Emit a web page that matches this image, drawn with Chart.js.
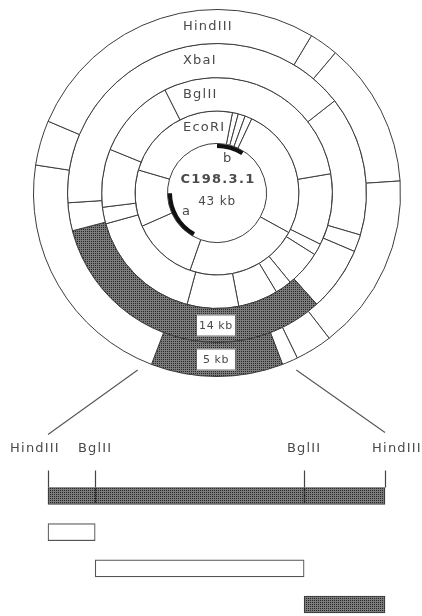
<!DOCTYPE html>
<html>
<head>
<meta charset="utf-8">
<script src="https://cdn.jsdelivr.net/npm/chart.js@4.4.1/dist/chart.umd.min.js"></script>
<style>
  html, body { margin: 0; padding: 0; background: #fff; width: 422px; height: 616px; overflow: hidden; }
  body { position: relative; }
  #ring { position: absolute; left: 33px; top: 9px; }
  #map { position: absolute; left: 0; top: 360px; }
</style>
</head>
<body>
<canvas id="ring" width="368" height="368"></canvas>
<canvas id="map" width="422" height="256"></canvas>
<script>
// Circular restriction map of cosmid C198.3.1 (43 kb); site positions in kb, clockwise from the top.
const cloneName = 'C198.3.1';
const genomeKb = 43;
const enzymes = ['HindIII', 'XbaI', 'BglII', 'EcoRI'];
const hindIIISites = [3.7, 4.8, 10.3, 17.0, 18.4, 19.0, 24.0, 33.3, 35.0];
const xbaISites = [6.2, 12.7, 13.5, 16.5, 30.5, 31.8];
const bglIISites = [9.6, 13.9, 14.6, 16.8, 17.8, 20.2, 23.3, 30.4, 31.4, 34.9, 39.8];
const ecoRISites = [1.3, 1.8, 2.4, 3.0, 14.2, 23.8, 29.4, 34.2];
// fragment (by its first site) that is shaded in each ring; null = none
const shadedStarts = [19.0, 16.5, null, null];
// hybridising probe regions drawn on the inner circle
const probeLabels = ['b', 'a'];
const probeStarts = [0.0, 25.0];
const probeEnds = [3.9, 32.2];
// the 5 kb HindIII fragment enlarged below, and its shaded sub-fragment
const insertFrom = 24.0;
const insertTo = 19.0;
const insertShadedPieces = [false, false, true];

const siteLists = [hindIIISites, xbaISites, bglIISites, ecoRISites];
const ringWeights = [34, 34, 33.5, 32.5];
const LINE = '#3c3c3c';
const TEXT = '#4a4a4a';
const FONT = '"DejaVu Sans", "Liberation Sans", sans-serif';

// fine dot screen used for the highlighted fragments
function stipple(canvas) {
  const c = document.createElement('canvas');
  c.width = c.height = 2;
  const g = c.getContext('2d');
  g.fillStyle = '#7c7c7c';
  g.fillRect(0, 0, 2, 2);
  g.fillStyle = '#262626';
  g.fillRect(0, 0, 1, 1);
  return canvas.getContext('2d').createPattern(c, 'repeat');
}

const r2 = v => Math.round(v * 100) / 100;
function fragmentsOf(sites) {
  return sites.map((s, i) => r2(i < sites.length - 1 ? sites[i + 1] - s : genomeKb - s + sites[0]));
}

const ringCanvas = document.getElementById('ring');
const ringFill = stipple(ringCanvas);

const ringDatasets = siteLists.map((sites, i) => ({
  label: enzymes[i],
  data: fragmentsOf(sites),
  backgroundColor: sites.map(s => (s === shadedStarts[i] ? ringFill : '#ffffff')),
  borderColor: LINE,
  borderWidth: 1,
  hoverBorderWidth: 1,
  hoverOffset: 0,
  rotation: sites[0] / genomeKb * 360,
  weight: ringWeights[i]
}));

// probe ring: alternating marked / unmarked stretches
const probeBounds = [];
probeStarts.forEach((s, i) => probeBounds.push({ at: s, mark: true }, { at: probeEnds[i], mark: false }));
probeBounds.sort((a, b) => a.at - b.at);
const probeSizes = probeBounds.map((b, i) =>
  r2(i < probeBounds.length - 1 ? probeBounds[i + 1].at - b.at : genomeKb - b.at + probeBounds[0].at));
ringDatasets.push({
  label: 'probes',
  data: probeSizes,
  backgroundColor: probeBounds.map(b => (b.mark ? '#111111' : 'rgba(0,0,0,0)')),
  borderWidth: 0,
  hoverOffset: 0,
  rotation: probeBounds[0].at / genomeKb * 360,
  weight: 4.5
});

function setFont(ctx, size, weight, spacing) {
  ctx.font = (weight || 'normal') + ' ' + size + 'px ' + FONT;
  ctx.letterSpacing = (spacing || 0) + 'px';
}

const ringText = {
  id: 'ringText',
  afterDatasetsDraw(chart) {
    const ctx = chart.ctx;
    const a0 = chart.getDatasetMeta(0).data[0];
    const cx = a0.x, cy = a0.y;
    ctx.save();
    ctx.fillStyle = TEXT;
    ctx.textBaseline = 'middle';
    // enzyme names, left-aligned on a common line just left of centre
    enzymes.forEach((name, i) => {
      const arc = chart.getDatasetMeta(i).data[0];
      const mid = (arc.innerRadius + arc.outerRadius) / 2;
      setFont(ctx, 13, 'normal', 1.2);
      ctx.textAlign = 'left';
      ctx.fillText(name, cx - 34, cy - mid);
    });
    // size boxes of the shaded fragments, at the bottom of their ring
    shadedStarts.forEach((start, i) => {
      if (start === null) return;
      const meta = chart.getDatasetMeta(i);
      const j = siteLists[i].indexOf(start);
      const arc = meta.data[j];
      const mid = (arc.innerRadius + arc.outerRadius) / 2;
      const label = Math.round(chart.data.datasets[i].data[j]) + ' kb';
      const bw = 40, bh = 22;
      ctx.fillStyle = '#ffffff';
      ctx.fillRect(cx - 1 - bw / 2, cy + mid - bh / 2, bw, bh);
      ctx.strokeStyle = '#6a6a6a';
      ctx.lineWidth = 1;
      ctx.strokeRect(cx - 1 - bw / 2 + 0.5, cy + mid - bh / 2 + 0.5, bw - 1, bh - 1);
      ctx.fillStyle = TEXT;
      setFont(ctx, 11, 'normal', 0.6);
      ctx.textAlign = 'center';
      ctx.fillText(label, cx - 1, cy + mid + 1);
    });
    // probe letters inside the marked arcs
    setFont(ctx, 13, 'normal', 0);
    ctx.textAlign = 'center';
    probeLabels.forEach((t, i) => {
      const ang = ((probeStarts[i] + probeEnds[i]) / 2) / genomeKb * 2 * Math.PI;
      ctx.fillText(t, cx + 36 * Math.sin(ang), cy - 36 * Math.cos(ang));
    });
    // clone name and size
    setFont(ctx, 13, 'bold', 1.3);
    ctx.fillText(cloneName, cx + 1, cy - 13);
    setFont(ctx, 12, 'normal', 0.8);
    ctx.fillText(genomeKb + ' kb', cx, cy + 9);
    ctx.restore();
  }
};

const ringChart = new Chart(ringCanvas, {
  type: 'doughnut',
  data: { labels: ringDatasets[2].data.map((_, i) => 'fragment ' + (i + 1)), datasets: ringDatasets },
  options: {
    responsive: false,
    animation: false,
    events: [],
    cutout: 45,
    layout: { padding: 0 },
    plugins: { legend: { display: false }, tooltip: { enabled: false } }
  },
  plugins: [ringText]
});

// Linear map of the 5 kb HindIII fragment
const insertSiteKb = [insertFrom]
  .concat(bglIISites.filter(s => s < insertFrom && s > insertTo).sort((a, b) => b - a))
  .concat([insertTo]);
const insertSiteNames = ['HindIII'].concat(insertSiteKb.slice(1, -1).map(() => 'BglII')).concat(['HindIII']);
const mapPositions = insertSiteKb.map(s => r2(insertFrom - s));
const mapRows = [[mapPositions[0], mapPositions[mapPositions.length - 1]]];
for (let i = 0; i < mapPositions.length - 1; i++) mapRows.push([mapPositions[i], mapPositions[i + 1]]);
const mapShaded = [true].concat(insertShadedPieces);

const mapCanvas = document.getElementById('map');
const mapFill = stipple(mapCanvas);
const MAP_TOP = 360;

const mapDecor = {
  id: 'mapDecor',
  afterDatasetsDraw(chart) {
    const ctx = chart.ctx;
    const xs = chart.scales.x;
    const bar0 = chart.getDatasetMeta(0).data[0];
    const barTop = bar0.y - bar0.height / 2;
    const barBot = bar0.y + bar0.height / 2;
    ctx.save();
    // site ticks above the whole fragment
    ctx.strokeStyle = '#444';
    ctx.lineWidth = 1.2;
    mapPositions.forEach(p => {
      const x = Math.round(xs.getPixelForValue(p)) + 0.5;
      ctx.beginPath();
      ctx.moveTo(x, barTop - 17);
      ctx.lineTo(x, barTop);
      ctx.stroke();
    });
    // internal sites marked through the shaded bar
    ctx.strokeStyle = '#1a1a1a';
    ctx.setLineDash([2, 1]);
    ctx.lineWidth = 1.5;
    mapPositions.slice(1, -1).forEach(p => {
      const x = Math.round(xs.getPixelForValue(p)) + 0.5;
      ctx.beginPath();
      ctx.moveTo(x, barTop + 1);
      ctx.lineTo(x, barBot - 1);
      ctx.stroke();
    });
    ctx.setLineDash([]);
    // site names
    ctx.fillStyle = TEXT;
    ctx.textAlign = 'center';
    ctx.textBaseline = 'middle';
    setFont(ctx, 13, 'normal', 1.2);
    insertSiteNames.forEach((n, i) => {
      let x = xs.getPixelForValue(mapPositions[i]);
      if (i === 0) x -= 13;
      if (i === insertSiteNames.length - 1) x += 12;
      ctx.fillText(n, x, barTop - 39);
    });
    // expansion lines from the circle to the ends of the linear map
    const a0 = ringChart.getDatasetMeta(0).data[0];
    const cx = a0.x + 33, cy = a0.y + 9 - MAP_TOP;
    const R = a0.outerRadius + 10.5;
    const angL = (insertFrom / genomeKb * 360 + 3.2) * Math.PI / 180;
    const angR = (insertTo / genomeKb * 360 - 3.2) * Math.PI / 180;
    ctx.strokeStyle = '#555';
    ctx.lineWidth = 1.1;
    ctx.beginPath();
    ctx.moveTo(cx + R * Math.sin(angL), cy - R * Math.cos(angL));
    ctx.lineTo(xs.getPixelForValue(mapPositions[0]), barTop - 53);
    ctx.moveTo(cx + R * Math.sin(angR), cy - R * Math.cos(angR));
    ctx.lineTo(xs.getPixelForValue(mapPositions[mapPositions.length - 1]), barTop - 55);
    ctx.stroke();
    ctx.restore();
  }
};

new Chart(mapCanvas, {
  type: 'bar',
  data: {
    labels: mapRows.map(r => (r[1] - r[0]).toFixed(1) + ' kb'),
    datasets: [{
      data: mapRows,
      backgroundColor: mapShaded.map(s => (s ? mapFill : '#ffffff')),
      borderColor: mapShaded.map(s => (s ? '#3a3a3a' : '#555')),
      borderWidth: 1.2,
      borderSkipped: false,
      barThickness: 17,
      clip: false
    }]
  },
  options: {
    indexAxis: 'y',
    responsive: false,
    animation: false,
    events: [],
    layout: { padding: { left: 48, right: 37, top: 136, bottom: 11.5 } },
    scales: {
      x: { type: 'linear', min: 0, max: mapPositions[mapPositions.length - 1], display: false },
      y: { type: 'category', offset: false, display: false }
    },
    plugins: { legend: { display: false }, tooltip: { enabled: false } }
  },
  plugins: [mapDecor]
});
</script>
</body>
</html>
